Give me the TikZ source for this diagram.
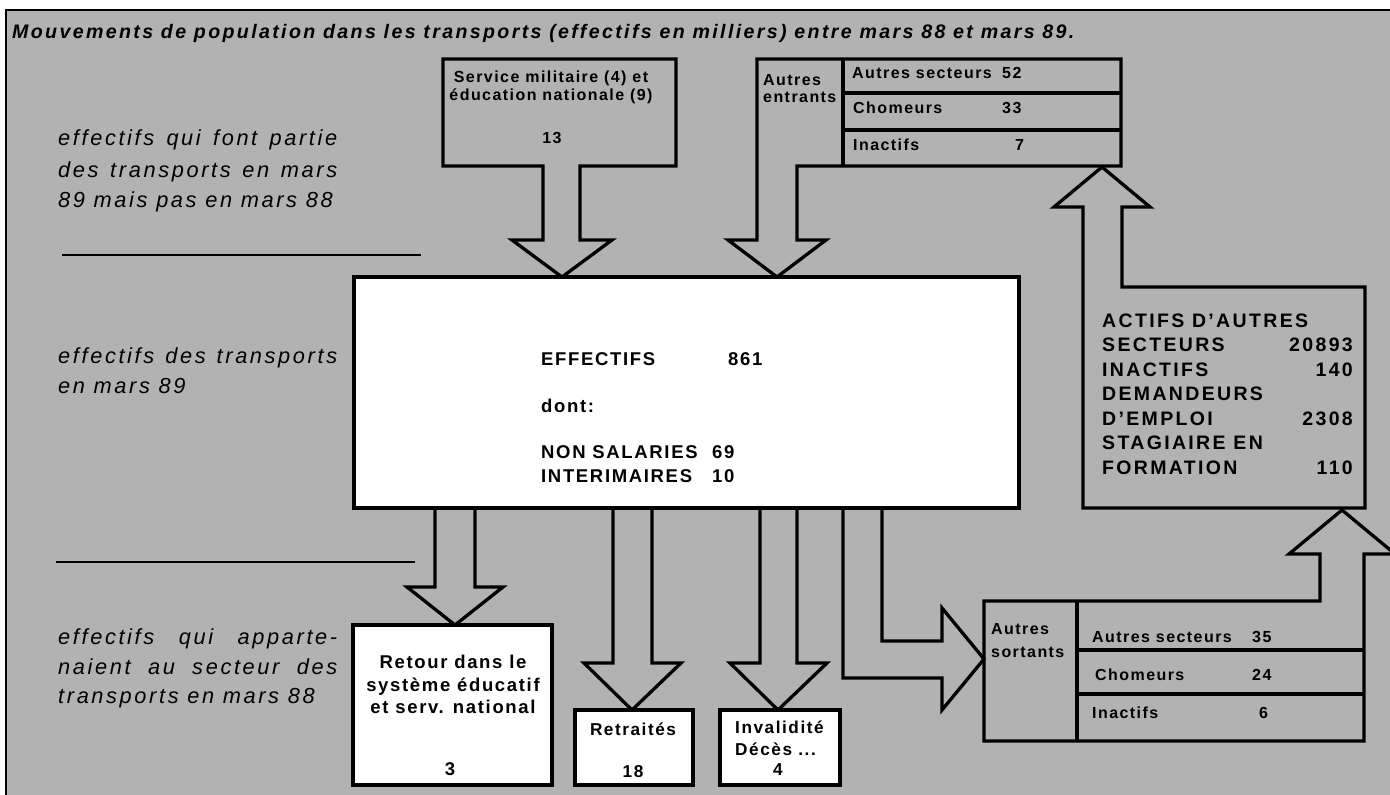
\documentclass[tikz,border=0pt]{standalone}
\usepackage{fontspec}
\setmainfont{Liberation Sans}[LetterSpace=12]
\newfontfamily\boxfont{Liberation Sans}[LetterSpace=9]
\usepackage{tikz}

\tikzset{
  stip/.style={fill=black!30},
  frm/.style={line width=3.3pt,line join=miter},
  ttl/.style={inner sep=0pt,anchor=base west,font=\fontsize{19.6}{22}\selectfont\bfseries\itshape},
  lbl/.style={inner sep=0pt,anchor=base west,font=\fontsize{21.8}{26}\selectfont\itshape},
  txt/.style={inner sep=0pt,anchor=base west,font=\boxfont\fontsize{16}{19}\selectfont\bfseries},
  txtc/.style={txt,anchor=base},
  txtb/.style={inner sep=0pt,anchor=base west,font=\boxfont\fontsize{18.5}{21}\selectfont\bfseries},
  txtbc/.style={txtb,anchor=base},
  txts/.style={inner sep=0pt,anchor=base west,font=\boxfont\fontsize{17.2}{20}\selectfont\bfseries},
  txtsc/.style={txts,anchor=base},
  big/.style={inner sep=0pt,anchor=base west,font=\boxfont\fontsize{18.5}{21}\selectfont\bfseries},
  act/.style={inner sep=0pt,anchor=base west,font=\fontsize{19.5}{23}\selectfont\bfseries},
  actn/.style={act,anchor=base east}
}

\begin{document}
\begin{tikzpicture}[x=1pt,y=-1pt,line cap=butt]
  \useasboundingbox (0,0) rectangle (1390,795);
  % fond grise et cadre
  \fill[stip] (6,10) rectangle (1390,795);
  \draw[line width=1.2pt] (6,795)--(6,10)--(1390,10);
  \node[ttl] (titre) at (12,38) {Mouvements de population dans les transports (effectifs en milliers) entre mars 88 et mars 89.};

  % legendes a gauche
  \draw[line width=1.3pt] (62,255)--(421,255);
  \draw[line width=1.3pt] (56,562)--(415,562);
  \node[lbl] (l1a) at (58,145) {\makebox[279pt][s]{effectifs qui font partie}};
  \node[lbl] (l1b) at (58,177) {\makebox[279pt][s]{des transports en mars}};
  \node[lbl] (l1c) at (58,207) {89 mais pas en mars 88};
  \node[lbl] (l2a) at (58,363) {\makebox[279pt][s]{effectifs des transports}};
  \node[lbl] (l2b) at (58,393) {en mars 89};
  \node[lbl] (l3a) at (58,644) {\makebox[279pt][s]{effectifs qui apparte-}};
  \node[lbl] (l3b) at (58,674) {\makebox[279pt][s]{naient au secteur des}};
  \node[lbl] (l3c) at (58,703) {transports en mars 88};

  % entrees du haut
  \draw[frm] (443,59)--(676,59)--(676,166)--(580,166)--(580,240)--(612,240)--(562,277)
    --(512,240)--(543,240)--(543,166)--(443,166)--cycle;
  \node[txtc] (serv1) at (551,82) {Service militaire (4) et};
  \node[txtc] (serv2) at (551,100) {éducation nationale (9)};
  \node[txtc] (serv3) at (552,143) {13};

  \draw[frm] (757,59)--(1121,59)--(1121,166)--(797,166)--(797,240)--(826,240)--(777,277)
    --(728,240)--(757,240)--cycle;
  \draw[frm] (843,59)--(843,166) (843,93)--(1121,93) (843,130)--(1121,130);
  \node[txt] (ent1) at (763,85) {Autres};
  \node[txt] (ent2) at (763,102) {entrants};
  \node[txt] (es1) at (852,78) {Autres secteurs};
  \node[txt] (en1) at (1002,78) {52};
  \node[txt] (es2) at (853,113) {Chomeurs};
  \node[txt] (en2) at (1002,113) {33};
  \node[txt] (es3) at (853,150) {Inactifs};
  \node[txt] (en3) at (1015,150) {7};

  % boite des actifs et fleche vers le haut
  \draw[frm] (1083,508)--(1083,207)--(1054,207)--(1102,167)--(1150,207)--(1122,207)
    --(1122,287)--(1365,287)--(1365,508)--cycle;
  \node[act] (a1) at (1102,327) {ACTIFS D'AUTRES};
  \node[act] (a2) at (1102,351) {SECTEURS};
  \node[actn] (a2n) at (1353,351) {20893};
  \node[act] (a3) at (1102,376) {INACTIFS};
  \node[actn] (a3n) at (1353,376) {140};
  \node[act] (a4) at (1102,400) {DEMANDEURS};
  \node[act] (a5) at (1102,425) {D'EMPLOI};
  \node[actn] (a5n) at (1353,425) {2308};
  \node[act] (a6) at (1102,449) {STAGIAIRE EN};
  \node[act] (a7) at (1102,474) {FORMATION};
  \node[actn] (a7n) at (1353,474) {110};

  % effectifs mars 89
  \draw[frm,fill=white] (354,277) rectangle (1019,508);
  \node[big] (eff) at (541,365) {EFFECTIFS};
  \node[big] (effn) at (728,365) {861};
  \node[big] (dont) at (541,412) {dont:};
  \node[big] (nsal) at (541,458) {NON SALARIES};
  \node[big] (nsaln) at (712,458) {69};
  \node[big] (inter) at (541,482) {INTERIMAIRES};
  \node[big] (intern) at (712,482) {10};

  % sorties vers le bas
  \draw[frm] (435,508)--(435,587)--(407,587)--(455,625)--(503,587)--(475,587)--(475,508);
  \draw[frm] (613,508)--(613,663)--(584,663)--(632,710)--(681,663)--(652,663)--(652,508);
  \draw[frm] (760,508)--(760,663)--(730,663)--(778,710)--(827,663)--(797,663)--(797,508);
  \draw[frm] (843,508)--(843,678)--(942,678)--(942,710)--(984,659)--(942,608)--(942,641)
    --(882,641)--(882,508);

  \draw[frm,fill=white] (353,625) rectangle (552,785);
  \node[txtbc] (ret1) at (453,668) {Retour dans le};
  \node[txtbc] (ret2) at (453,691) {système éducatif};
  \node[txtbc] (ret3) at (453,713) {et serv. national};
  \node[txtbc] (ret4) at (450,775) {3};

  \draw[frm,fill=white] (575,710) rectangle (693,785);
  \node[txtsc] (retr1) at (633,735) {Retraités};
  \node[txtsc] (retr2) at (633,777) {18};

  \draw[frm,fill=white] (720,710) rectangle (840,785);
  \node[txts] (inv1) at (735,733) {Invalidité};
  \node[txts] (inv2) at (735,755) {Décès ...};
  \node[txtsc] (inv3) at (778,775) {4};

  % autres sortants et fleche vers les actifs
  \draw[frm] (984,601)--(1320,601)--(1320,554)--(1289,554)--(1342,510)--(1395,554)
    --(1364,554)--(1364,741)--(984,741)--cycle;
  \draw[frm] (1077,601)--(1077,741) (1077,650)--(1364,650) (1077,694)--(1364,694);
  \node[txt] (sor1) at (991,634) {Autres};
  \node[txt] (sor2) at (991,657) {sortants};
  \node[txt] (ss1) at (1092,642) {Autres secteurs};
  \node[txt] (sn1) at (1252,642) {35};
  \node[txt] (ss2) at (1095,680) {Chomeurs};
  \node[txt] (sn2) at (1252,680) {24};
  \node[txt] (ss3) at (1092,718) {Inactifs};
  \node[txt] (sn3) at (1259,718) {6};
\end{tikzpicture}
\end{document}
